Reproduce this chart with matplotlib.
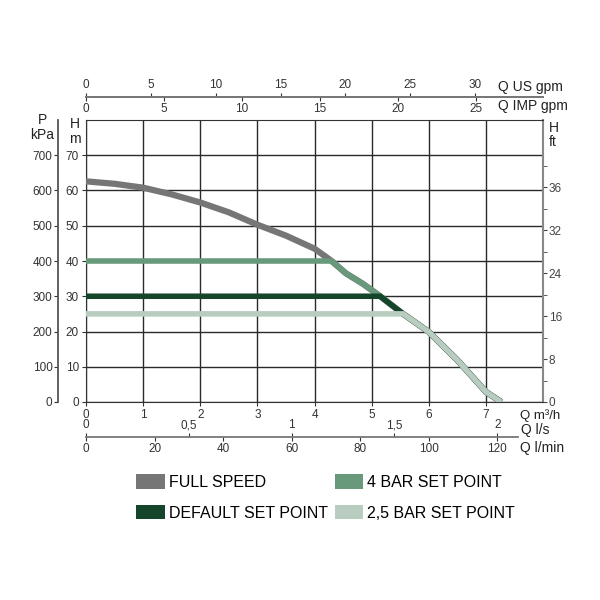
import matplotlib
matplotlib.use('Agg')
import matplotlib.pyplot as plt
from matplotlib.patches import Patch
import numpy as np

plt.rcParams['font.family'] = ['Liberation Sans', 'DejaVu Sans']

# pump curve at full speed, Q in m3/h, H in m
q_full = [0, 0.5, 1, 1.5, 2, 2.5, 3, 3.5, 4, 4.3, 4.55, 4.85, 5.15, 5.55, 6, 6.5, 7, 7.27]
h_full = [62.6, 61.9, 60.8, 58.9, 56.6, 53.8, 50.3, 47.2, 43.5, 40, 36.5, 33.5, 30, 25, 19.9, 11.9, 2.9, 0]

# set points (H in m)
setpoint_names = ['4 BAR SET POINT', 'DEFAULT SET POINT', '2,5 BAR SET POINT']
setpoint_h = [40, 30, 25]

colors = {'FULL SPEED': '#767676',
          '4 BAR SET POINT': '#67997a',
          'DEFAULT SET POINT': '#15452b',
          '2,5 BAR SET POINT': '#b8cdbf'}

x_ticks = [0, 1, 2, 3, 4, 5, 6, 7]
y_ticks = [0, 10, 20, 30, 40, 50, 60, 70]
kpa_ticks = [0, 100, 200, 300, 400, 500, 600, 700]
us_ticks = [0, 5, 10, 15, 20, 25, 30]
imp_ticks = [0, 5, 10, 15, 20, 25]
ls_ticks = [0, 0.5, 1, 1.5, 2]
ls_labels = ['0', '0,5', '1', '1,5', '2']
lmin_ticks = [0, 20, 40, 60, 80, 100, 120]
ft_ticks = [0, 40, 80, 120, 160, 200]
ft_labels = ['0', '8', '16', '24', '32', '36']
ft_minor = [20, 60, 100, 140, 180, 220]

fig = plt.figure(figsize=(6, 6), dpi=100)
ax = fig.add_axes([86 / 600, 1 - 402 / 600, 457 / 600, 282 / 600])
ax.set_xlim(0, 8)
ax.set_ylim(0, 80)
ax.set_xticks(x_ticks)
ax.set_yticks(y_ticks)
ax.grid(True, color='#2a2a2a', lw=1.0)
ax.tick_params(labelsize=8.5, length=3, pad=2, colors='#333333')
for s in ['left', 'top', 'bottom']:
    ax.spines[s].set_color('#333333')
ax.spines['right'].set_color('#888888')
ax.spines['right'].set_linewidth(1.5)

# curves
ax.plot(q_full, h_full, color=colors['FULL SPEED'], lw=4.5, solid_capstyle='butt', zorder=3)
q_arr = np.array(q_full)
h_arr = np.array(h_full)
for name, h in zip(setpoint_names, setpoint_h):
    q0 = np.interp(h, h_arr[::-1], q_arr[::-1])
    mask = h_arr < h
    qs = np.concatenate([[0, q0], q_arr[mask]])
    hs = np.concatenate([[h, h], h_arr[mask]])
    ax.plot(qs, hs, color=colors[name], lw=4, solid_capstyle='butt',
            solid_joinstyle='miter', zorder=4)

# top flow axes
loc_top = (402 - 97) / 282
us = ax.secondary_xaxis(loc_top, functions=(lambda q: q * 4.403, lambda g: g / 4.403))
us.set_xticks(us_ticks)
us.tick_params(labelsize=8.5, length=3, pad=1, colors='#333333')
imp = ax.secondary_xaxis(loc_top, functions=(lambda q: q * 3.666, lambda g: g / 3.666))
imp.set_alignment('bottom')
imp.set_xticks(imp_ticks)
imp.tick_params(labelsize=8.5, length=3, pad=1, colors='#333333')
for a in (us, imp):
    for s in a.spines.values():
        s.set_color('#777777')
        s.set_linewidth(1.3)

# bottom flow axes
loc_bot = (402 - 437) / 282
ls = ax.secondary_xaxis(loc_bot, functions=(lambda q: q / 3.6, lambda v: v * 3.6))
ls.set_alignment('top')
ls.set_xticks(ls_ticks)
ls.set_xticklabels(ls_labels)
ls.tick_params(labelsize=8.5, length=3, pad=1, colors='#333333')
lmin = ax.secondary_xaxis(loc_bot, functions=(lambda q: q * 1000 / 60, lambda v: v * 60 / 1000))
lmin.set_xticks(lmin_ticks)
lmin.tick_params(labelsize=8.5, length=3, pad=1, colors='#333333')
for s in ls.spines.values():
    s.set_visible(False)
for s in lmin.spines.values():
    s.set_color('#777777')
    s.set_linewidth(1.3)
    s.set_bounds(0, 126)

# pressure axis on the left
loc_p = (58 - 86) / 457
kpa = ax.secondary_yaxis(loc_p, functions=(lambda h: h * 10, lambda p: p / 10))
kpa.set_yticks(kpa_ticks)
kpa.tick_params(labelsize=8.5, length=3, pad=1, colors='#333333')
for s in kpa.spines.values():
    s.set_color('#555555')
    s.set_linewidth(1.3)

# feet axis on the right
ft = ax.secondary_yaxis('right', functions=(lambda h: h * 3.281, lambda f: f / 3.281))
ft.set_yticks(ft_ticks)
ft.set_yticklabels(ft_labels)
ft.set_yticks(ft_minor, minor=True)
ft.tick_params(which='both', labelsize=8.5, length=3, pad=1, colors='#444444')
for s in ft.spines.values():
    s.set_visible(False)

# axis titles
def px(x, y, t, ha='left', size=10):
    fig.text(x / 600, 1 - y / 600, t, fontsize=size, ha=ha, va='center', color='#222222')

px(42, 120, 'P', ha='center')
px(42, 135, 'kPa', ha='center')
px(75, 124, 'H', ha='center')
px(75, 139, 'm', ha='center')
px(549, 128, 'H')
px(549, 142, 'ft')
px(498, 87, 'Q US gpm')
px(498, 106, 'Q IMP gpm')
px(520, 416, 'Q m³/h', size=9.5)
px(521, 430, 'Q l/s')
px(520, 448, 'Q l/min')

# legend
legend_order = ['FULL SPEED', 'DEFAULT SET POINT', '4 BAR SET POINT', '2,5 BAR SET POINT']
handles = [Patch(facecolor=colors[n], edgecolor='none', label=n) for n in legend_order]
fig.legend(handles=handles, ncol=2, loc='upper left', bbox_to_anchor=(130 / 600, 1 - 468 / 600),
           frameon=False, fontsize=11.5, handlelength=1.8, handleheight=1.0,
           handletextpad=0.25, columnspacing=0.4, labelspacing=0.95, borderaxespad=0)

fig.savefig('out.png', dpi=100)
